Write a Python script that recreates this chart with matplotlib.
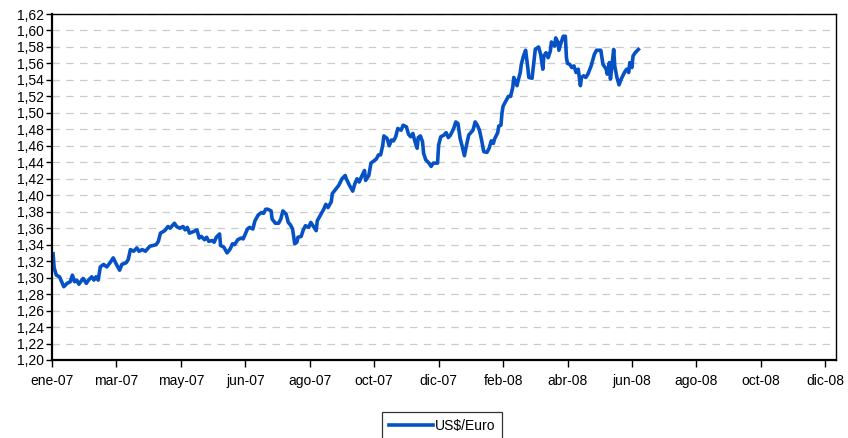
import pandas as pd
import matplotlib
matplotlib.use("Agg")
import matplotlib.pyplot as plt
from matplotlib.ticker import FuncFormatter, MultipleLocator

# -------------------------------
# Data: US$/Euro, days counted from 1 Jan 2007
# -------------------------------
days = [
    1, 2, 4, 7, 9, 11, 14, 17, 19, 21, 23, 25, 29, 32, 34, 37, 39, 41, 43, 45,
    48, 51, 54, 57, 60, 63, 65, 69, 71, 73, 76, 79, 81, 84, 87, 91, 97, 99, 101, 105,
    108, 110, 114, 116, 119, 122, 124, 126, 128, 132, 135, 137,
    139, 142, 144, 146, 149, 151, 153, 156, 157, 160, 163, 166, 168, 170, 173, 176, 178, 180,
    182, 184, 187, 189, 192, 195, 197, 199, 201, 204, 205, 208, 211, 213, 215, 218, 220, 222,
    224, 226, 228, 229, 232, 234, 236, 239, 241, 243, 246, 247, 250, 253, 255, 257, 260, 261,
    264, 267, 270, 273,
    274, 277, 280, 282, 284, 286, 288, 291, 292, 295, 297, 299, 302, 304, 306, 308, 309, 312,
    314, 316, 318, 320, 322, 325, 327, 330, 332, 334, 336, 338, 340, 341, 343, 345, 346, 348,
    351, 353, 355, 359, 360, 362, 365, 367, 369, 371, 374, 376, 378, 380, 382, 384, 386, 388,
    392, 394, 396, 398, 400, 402, 405, 407, 409, 411,
    412, 415, 416, 418, 419, 420, 422, 425, 427, 429, 430, 433, 434, 436, 437, 439, 441, 443,
    444, 447, 449, 450, 453, 455, 457, 458, 460, 462, 464, 465, 468, 469, 471, 472, 474, 476,
    478, 479, 480, 482, 484, 486, 488, 490, 492, 493, 495, 497, 499, 502, 505, 507, 511, 513,
    516, 517, 519, 520, 523, 524, 526, 528, 530, 533, 535, 537, 538, 540, 541, 543, 546,
]
rate = [
    1.329, 1.312, 1.303, 1.301, 1.295, 1.289, 1.293, 1.295, 1.303, 1.295, 1.297, 1.292, 1.299, 1.293, 1.297, 1.301, 1.297, 1.301, 1.297, 1.313,
    1.316, 1.313, 1.318, 1.324, 1.316, 1.309, 1.316, 1.318, 1.322, 1.334, 1.332, 1.336, 1.332, 1.334, 1.332, 1.338, 1.340, 1.344, 1.354, 1.357,
    1.362, 1.360, 1.366, 1.362, 1.360, 1.362, 1.358, 1.361, 1.354, 1.356, 1.358, 1.348,
    1.350, 1.346, 1.349, 1.344, 1.345, 1.343, 1.349, 1.353, 1.339, 1.337, 1.330, 1.335, 1.341, 1.340, 1.346, 1.348, 1.347, 1.353,
    1.359, 1.361, 1.359, 1.369, 1.376, 1.379, 1.378, 1.383, 1.383, 1.381, 1.371, 1.366, 1.366, 1.371, 1.381, 1.377, 1.367, 1.364,
    1.359, 1.341, 1.343, 1.349, 1.350, 1.358, 1.363, 1.361, 1.367, 1.363, 1.357, 1.369, 1.376, 1.383, 1.389, 1.385, 1.392, 1.402,
    1.407, 1.412, 1.420, 1.424,
    1.420, 1.412, 1.405, 1.414, 1.420, 1.416, 1.422, 1.430, 1.418, 1.424, 1.439, 1.441, 1.444, 1.449, 1.449, 1.461, 1.472, 1.469,
    1.460, 1.467, 1.466, 1.471, 1.481, 1.479, 1.485, 1.483, 1.474, 1.471, 1.475, 1.465, 1.457, 1.470, 1.472, 1.465, 1.451, 1.443,
    1.439, 1.435, 1.439, 1.439, 1.461, 1.471, 1.473, 1.476, 1.470, 1.473, 1.481, 1.489, 1.487, 1.469, 1.459, 1.448, 1.461, 1.473,
    1.479, 1.489, 1.485, 1.479, 1.467, 1.453, 1.452, 1.457, 1.466, 1.463,
    1.468, 1.476, 1.484, 1.485, 1.500, 1.508, 1.513, 1.520, 1.520, 1.531, 1.543, 1.533, 1.539, 1.549, 1.559, 1.569, 1.576, 1.555,
    1.543, 1.542, 1.565, 1.577, 1.580, 1.571, 1.553, 1.569, 1.573, 1.567, 1.575, 1.586, 1.581, 1.591, 1.586, 1.576, 1.585, 1.593,
    1.593, 1.567, 1.560, 1.559, 1.555, 1.557, 1.549, 1.553, 1.533, 1.543, 1.545, 1.543, 1.547, 1.557, 1.571, 1.576, 1.576, 1.559,
    1.553, 1.547, 1.561, 1.541, 1.577, 1.557, 1.543, 1.534, 1.541, 1.549, 1.553, 1.549, 1.561, 1.555, 1.569, 1.573, 1.577,
]

tick_days = [0, 60, 120, 180, 240, 300, 360, 420, 480, 540, 600, 660, 720]
tick_labels = ["ene-07", "mar-07", "may-07", "jun-07", "ago-07", "oct-07", "dic-07",
               "feb-08", "abr-08", "jun-08", "ago-08", "oct-08", "dic-08"]

df = pd.DataFrame({"day": days, "rate": rate})

# -------------------------------
# Plot
# -------------------------------
plt.rcParams["font.family"] = ["Liberation Sans", "DejaVu Sans"]

fig = plt.figure(figsize=(8.48, 4.38), dpi=100)
ax = fig.add_axes([52 / 848, 1 - 360 / 438, 784 / 848, 346 / 438])

line, = ax.plot(df["day"], df["rate"], color="#0652c5", linewidth=2.6,
                solid_joinstyle="round", label=r"US\$/Euro")

ax.set_xlim(0, 730)
ax.set_ylim(1.20, 1.62)
ax.set_xticks(tick_days)
ax.set_xticklabels(tick_labels)
ax.yaxis.set_major_locator(MultipleLocator(0.02))
ax.yaxis.set_major_formatter(FuncFormatter(lambda v, p: f"{v:.2f}".replace(".", ",")))

ax.grid(axis="y", color="#c8cccc", linestyle=(0, (6, 5)), linewidth=0.9)
ax.set_axisbelow(True)

ax.tick_params(axis="both", labelsize=10, colors="black", direction="out")
ax.tick_params(axis="y", length=4, width=1, pad=2)
ax.tick_params(axis="x", length=5, width=1, pad=5)

for side in ["left", "bottom"]:
    ax.spines[side].set_linewidth(1.6)
for side in ["top", "right"]:
    ax.spines[side].set_linewidth(1.0)

leg = fig.legend(handles=[line], loc="upper center", bbox_to_anchor=(442 / 848, 1 - 412 / 438),
                 fontsize=10, frameon=True, fancybox=False, edgecolor="black",
                 handlelength=3.2, handletextpad=0.1, borderpad=0.5, borderaxespad=0)
leg.get_frame().set_linewidth(0.9)

fig.savefig("out.png", dpi=100)
print("saved out.png")
